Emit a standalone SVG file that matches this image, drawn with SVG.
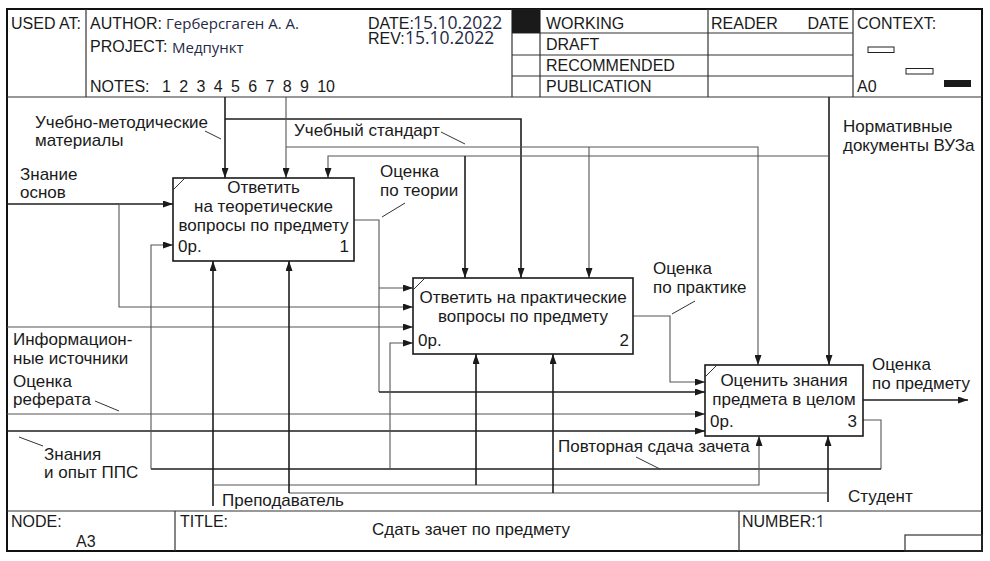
<svg xmlns="http://www.w3.org/2000/svg" width="990" height="561" viewBox="0 0 990 561">
  <style>
    text { font-family: "Liberation Sans", Arial, sans-serif; fill: #1a1a1a; }
    .hd { font-size: 16px; }
    .lb { font-size: 17px; }
    .bx { font-size: 17px; }
    .fill { font-family: "Open Sans", "Noto Sans", sans-serif; fill: #1f2a44; }
    .frame { fill: none; stroke: #111; stroke-width: 2; }
    .grid { fill: none; stroke: #333; stroke-width: 1.2; }
    .box { fill: #fff; stroke: #1a1a1a; stroke-width: 1.6; }
    .thick { fill: none; stroke: #1e1e1e; stroke-width: 1.6; }
    .thin { fill: none; stroke: #555; stroke-width: 1.1; }
    .lead { fill: none; stroke: #333; stroke-width: 1; }
    .arr { marker-end: url(#ah); }
  </style>
  <defs>
    <marker id="ah" viewBox="0 0 10 7" refX="10" refY="3.5" markerWidth="10" markerHeight="7" markerUnits="userSpaceOnUse" orient="auto">
      <path d="M0,0 L10,3.5 L0,7 z" fill="#1a1a1a"/>
    </marker>
  </defs>

  <rect x="0" y="0" width="990" height="561" fill="#fff"/>

  <!-- Form frame -->
  <g id="form">
    <rect class="frame" x="7" y="9" width="975" height="542"/>
    <line class="grid" x1="7" y1="97" x2="982" y2="97"/>
    <line class="grid" x1="86" y1="9" x2="86" y2="97"/>
    <line class="grid" x1="512" y1="9" x2="512" y2="97"/>
    <line class="grid" x1="540" y1="9" x2="540" y2="97"/>
    <line class="grid" x1="708" y1="9" x2="708" y2="97"/>
    <line class="grid" x1="853" y1="9" x2="853" y2="97"/>
    <line class="grid" x1="512" y1="33" x2="853" y2="33"/>
    <line class="grid" x1="512" y1="55" x2="853" y2="55"/>
    <line class="grid" x1="512" y1="76" x2="853" y2="76"/>
    <rect x="512" y="9" width="28" height="24" fill="#1a1a1a"/>
    <rect x="868" y="47" width="26" height="5.5" fill="#fff" stroke="#222" stroke-width="1"/>
    <rect x="906" y="68.5" width="27" height="5.5" fill="#fff" stroke="#222" stroke-width="1"/>
    <rect x="944" y="80" width="27" height="7" fill="#1a1a1a"/>

    <text class="hd" x="11" y="29">USED AT:</text>
    <text class="hd" x="90" y="29">AUTHOR:</text>
    <text class="fill" x="166" y="29" font-size="15">Герберсгаген А. А.</text>
    <text class="hd" x="90" y="52">PROJECT:</text>
    <text class="fill" x="172" y="53" font-size="15">Медпункт</text>
    <text class="hd" x="90" y="92">NOTES:</text>
    <text class="hd" x="162" y="92" word-spacing="3.9">1 2 3 4 5 6 7 8 9 10</text>
    <text class="hd" x="368" y="29">DATE:</text>
    <text class="fill" x="413" y="29" font-size="17.5">15.10.2022</text>
    <text class="hd" x="368" y="44">REV:</text>
    <text class="fill" x="405" y="44" font-size="17.5">15.10.2022</text>
    <text class="hd" x="546" y="29">WORKING</text>
    <text class="hd" x="546" y="50">DRAFT</text>
    <text class="hd" x="546" y="71">RECOMMENDED</text>
    <text class="hd" x="546" y="92">PUBLICATION</text>
    <text class="hd" x="711" y="29">READER</text>
    <text class="hd" x="849" y="29" text-anchor="end">DATE</text>
    <text class="hd" x="857" y="29">CONTEXT:</text>
    <text class="hd" x="857" y="92">A0</text>

    <line class="grid" x1="7" y1="511" x2="982" y2="511"/>
    <line class="grid" x1="175" y1="511" x2="175" y2="551"/>
    <line class="grid" x1="739" y1="511" x2="739" y2="551"/>
    <rect x="905" y="535" width="77" height="16" fill="none" stroke="#333" stroke-width="1.2"/>
    <text class="hd" x="11" y="527">NODE:</text>
    <text class="hd" x="76" y="547">A3</text>
    <text class="hd" x="180" y="527">TITLE:</text>
    <text class="lb" x="471" y="535" text-anchor="middle">Сдать зачет по предмету</text>
    <text class="hd" x="742" y="527">NUMBER:<tspan class="fill">1</tspan></text>
  </g>

  <!-- Connectors -->
  <g id="connectors">
    <!-- controls -->
    <polyline class="thick arr" points="225,97 225,178"/>
    <polyline class="thick arr" points="225,119 521,119 521,278"/>
    <polyline class="thin arr" points="286,97 286,178"/>
    <polyline class="thin arr" points="286,147 758,147 758,365"/>
    <polyline class="thin arr" points="589,147 589,278"/>
    <polyline class="thick arr" points="829,97 829,365"/>
    <polyline class="thin arr" points="829,156 328,156 328,178"/>
    <polyline class="thick arr" points="465,156 465,278"/>
    <!-- inputs -->
    <polyline class="thick arr" points="7,204 173,204"/>
    <polyline class="thin arr" points="119,204 119,307 413,307"/>
    <polyline class="thin arr" points="7,327 413,327"/>
    <polyline class="thin arr" points="7,414 705,414"/>
    <polyline class="thick arr" points="7,431 705,431"/>
    <!-- outputs between activities -->
    <polyline class="thin" points="354,220 379,220 379,392"/>
    <polyline class="thin arr" points="379,288 413,288"/>
    <polyline class="thick arr" points="379,392 705,392"/>
    <polyline class="thin arr" points="633,316 670,316 670,382 705,382"/>
    <polyline class="thick arr" points="863,400 968,400"/>
    <!-- re-take feedback -->
    <polyline class="thin" points="863,420 881,420 881,469"/>
    <polyline class="thick" points="881,469 151,469"/>
    <polyline class="thin arr" points="151,469 151,245 173,245"/>
    <polyline class="thin arr" points="390,469 390,343 413,343"/>
    <!-- mechanisms -->
    <polyline class="thick arr" points="213,506 213,261"/>
    <polyline class="thin arr" points="213,485 759,485 759,436"/>
    <polyline class="thick arr" points="476,485 476,354"/>
    <polyline class="thick arr" points="828,502 828,436"/>
    <polyline class="thin" points="828,493 289,493"/>
    <polyline class="thick arr" points="289,493 289,261"/>
    <polyline class="thick arr" points="553,493 553,354"/>

    <!-- label leaders -->
    <line class="lead" x1="205" y1="131" x2="221" y2="139"/>
    <line class="lead" x1="441" y1="132" x2="465" y2="144"/>
    <line class="lead" x1="382" y1="217" x2="405" y2="203"/>
    <line class="lead" x1="672" y1="314" x2="695" y2="301"/>
    <line class="lead" x1="95" y1="401" x2="119" y2="411"/>
    <line class="lead" x1="19" y1="437" x2="43" y2="446"/>
    <line class="lead" x1="636" y1="457" x2="660" y2="469"/>

    <!-- arrow labels -->
    <text class="lb" x="35" y="128">Учебно-методические</text>
    <text class="lb" x="35" y="146">материалы</text>
    <text class="lb" x="294" y="136">Учебный стандарт</text>
    <text class="lb" x="843" y="132">Нормативные</text>
    <text class="lb" x="843" y="151">документы ВУЗа</text>
    <text class="lb" x="20" y="180">Знание</text>
    <text class="lb" x="20" y="198">основ</text>
    <text class="lb" x="380" y="177">Оценка</text>
    <text class="lb" x="380" y="196">по теории</text>
    <text class="lb" x="653" y="274">Оценка</text>
    <text class="lb" x="653" y="293">по практике</text>
    <text class="lb" x="13" y="345">Информацион-</text>
    <text class="lb" x="13" y="364">ные источники</text>
    <text class="lb" x="13" y="387">Оценка</text>
    <text class="lb" x="13" y="405">реферата</text>
    <text class="lb" x="44" y="460">Знания</text>
    <text class="lb" x="44" y="478">и опыт ППС</text>
    <text class="lb" x="558" y="452">Повторная сдача зачета</text>
    <text class="lb" x="872" y="370">Оценка</text>
    <text class="lb" x="872" y="389">по предмету</text>
    <text class="lb" x="222" y="506">Преподаватель</text>
    <text class="lb" x="848" y="502">Студент</text>
  </g>

  <!-- Activity 1 -->
  <g id="node-1">
    <rect class="box" x="173" y="178" width="181" height="83"/>
    <line class="lead" x1="173" y1="190" x2="185" y2="178"/>
    <text class="bx" x="263.5" y="193" text-anchor="middle">Ответить</text>
    <text class="bx" x="263.5" y="212" text-anchor="middle">на теоретические</text>
    <text class="bx" x="263.5" y="231" text-anchor="middle">вопросы по предмету</text>
    <text class="bx" x="178" y="252">0р.</text>
    <text class="bx" x="349" y="252" text-anchor="end">1</text>
  </g>

  <!-- Activity 2 -->
  <g id="node-2">
    <rect class="box" x="413" y="278" width="220" height="76"/>
    <line class="lead" x1="413" y1="290" x2="425" y2="278"/>
    <text class="bx" x="523" y="303" text-anchor="middle">Ответить на практические</text>
    <text class="bx" x="523" y="322" text-anchor="middle">вопросы по предмету</text>
    <text class="bx" x="418" y="346">0р.</text>
    <text class="bx" x="629" y="346" text-anchor="end">2</text>
  </g>

  <!-- Activity 3 -->
  <g id="node-3">
    <rect class="box" x="705" y="365" width="158" height="71"/>
    <line class="lead" x1="705" y1="377" x2="717" y2="365"/>
    <text class="bx" x="784" y="386" text-anchor="middle">Оценить знания</text>
    <text class="bx" x="784" y="405" text-anchor="middle">предмета в целом</text>
    <text class="bx" x="710" y="427">0р.</text>
    <text class="bx" x="857" y="427" text-anchor="end">3</text>
  </g>
</svg>
